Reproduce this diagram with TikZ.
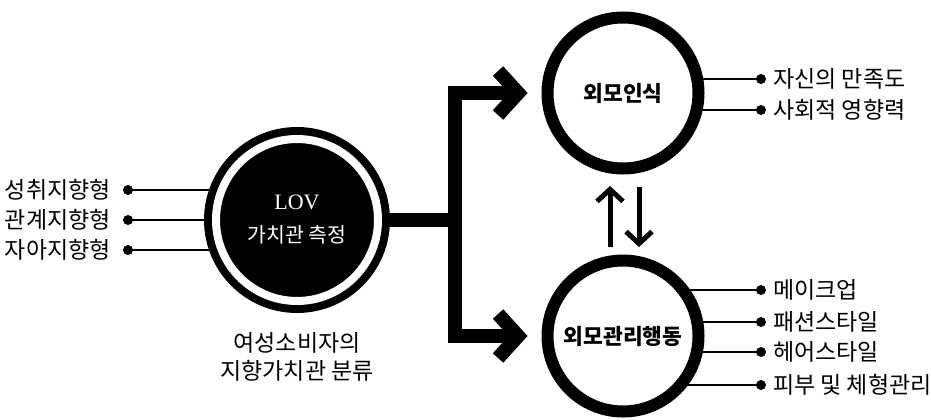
\documentclass[tikz,border=0pt]{standalone}
\usepackage{fontspec}
\newfontfamily\kr{Noto Sans CJK KR}
\newfontfamily\lovfont{Liberation Serif}
\usetikzlibrary{arrows.meta,backgrounds}
\begin{document}
\begin{tikzpicture}[x=1pt,y=-1pt,
  lbl/.style={font=\kr\fontsize{23}{26}\selectfont, inner sep=0pt},
  dotnode/.style={circle, fill=black, minimum size=10pt, inner sep=0pt},
  thinline/.style={line width=2pt},
  ringnode/.style={circle, draw=black, line width=12pt, fill=white, minimum size=151pt, inner sep=0pt, font=\kr\bfseries\fontsize{21.5}{24}\selectfont},
  lovnode/.style={circle, fill=black, draw=black, line width=8pt, double=white, double distance=8pt, minimum size=162pt, inner sep=0pt, text=white, align=center, font=\fontsize{20.5}{33}\selectfont},
  fatline/.style={line width=14pt, line join=miter},
  fatarrow/.style={line width=14pt, line join=miter, -{Straight Barb[length=20pt,width=44pt]}, shorten >=14pt},
  smallarrow/.style={line width=5pt, -{Straight Barb[length=12pt,width=26pt]}},
  ]
\useasboundingbox (0,0) rectangle (931,420);

% main circles
\node[lovnode] (lov) at (297,220) {{\lovfont\fontsize{22}{33}\selectfont LOV}\\{\kr 가치관 측정}};
\node[ringnode] (per) at (623,93) {외모인식};
\node[ringnode] (beh) at (623,336) {외모관리행동};

% caption
\node[lbl, align=center, font=\kr\fontsize{23}{28}\selectfont] (cap) at (297,357) {여성소비자의\\지향가치관 분류};

% left items
\node[dotnode] (a1) at (128,190) {};
\node[dotnode] (a2) at (128,220) {};
\node[dotnode] (a3) at (128,250) {};
\node[lbl, anchor=east] (la1) at (111,190) {성취지향형};
\node[lbl, anchor=east] (la2) at (111,220) {관계지향형};
\node[lbl, anchor=east] (la3) at (111,250) {자아지향형};

% right top items
\node[dotnode] (b1) at (761,79) {};
\node[dotnode] (b2) at (761,110) {};
\node[lbl, anchor=west] (lb1) at (773,79) {자신의 만족도};
\node[lbl, anchor=west] (lb2) at (773,110) {사회적 영향력};

% right bottom items
\node[dotnode] (c1) at (761,290) {};
\node[dotnode] (c2) at (761,322) {};
\node[dotnode] (c3) at (761,352) {};
\node[dotnode] (c4) at (761,385) {};
\node[lbl, anchor=west] (lc1) at (773,290) {메이크업};
\node[lbl, anchor=west] (lc2) at (773,322) {패션스타일};
\node[lbl, anchor=west] (lc3) at (773,352) {헤어스타일};
\node[lbl, anchor=west] (lc4) at (773,385) {피부 및 체형관리};

% vertical arrows
\coordinate (u1) at (610,247);
\coordinate (u2) at (610,186);
\coordinate (v1) at (639,187);
\coordinate (v2) at (639,247);
\draw[smallarrow] (u1) -- (u2);
\draw[smallarrow] (v1) -- (v2);

\coordinate (jx) at (455,220);

\begin{scope}[on background layer]
  \foreach \d in {a1,a2,a3} \draw[thinline] (\d.center) -- (\d -| lov.center);
  \foreach \d in {b1,b2} \draw[thinline] (\d.center) -- (\d -| per.center);
  \foreach \d in {c1,c2,c3,c4} \draw[thinline] (\d.center) -- (\d -| beh.center);
  \draw[fatline] (lov.center) -- (jx);
\end{scope}
\draw[fatarrow] (jx) |- (per);
\draw[fatarrow] (jx) |- (beh);
\end{tikzpicture}
\end{document}
